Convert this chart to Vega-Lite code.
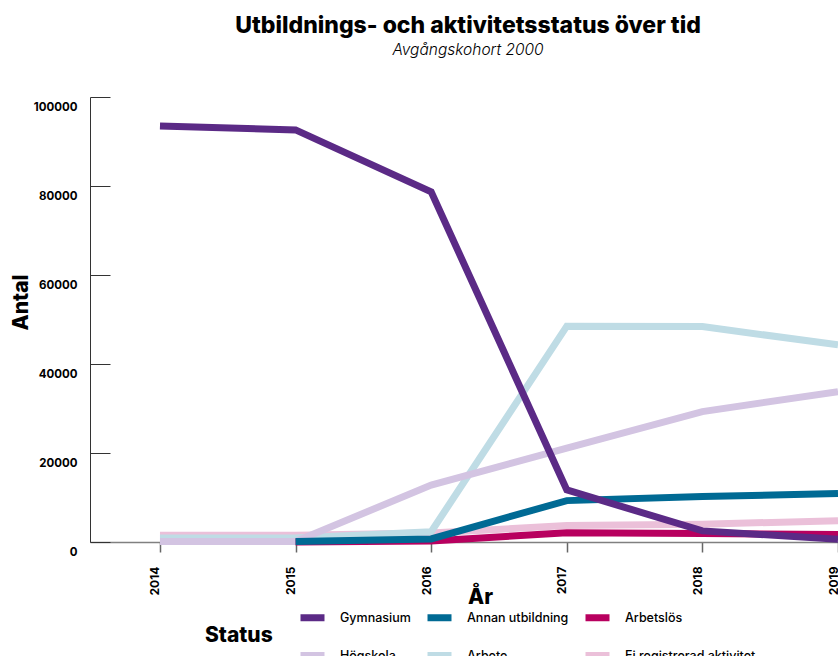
{
  "$schema": "https://vega.github.io/schema/vega-lite/v6.json",
  "width": 748,
  "height": 445,
  "autosize": {"type": "none"},
  "padding": {"left": 90, "top": 97, "right": 0, "bottom": 114},
  "background": "white",
  "title": {
    "text": "Utbildnings- och aktivitetsstatus över tid",
    "subtitle": "Avgångskohort 2000",
    "font": "Inter",
    "fontSize": 23,
    "fontWeight": 800,
    "color": "black",
    "subtitleFont": "Inter",
    "subtitleFontSize": 15.5,
    "subtitleFontStyle": "italic",
    "subtitleFontWeight": 300,
    "subtitleColor": "black",
    "subtitlePadding": 5,
    "anchor": "middle",
    "dx": 4,
    "offset": 38
  },
  "config": {
    "view": {"stroke": null},
    "font": "Inter"
  },
  "data": {
    "values": [
      {"status": "Ej registrerad aktivitet", "year": 2014, "antal": 1500},
      {"status": "Ej registrerad aktivitet", "year": 2015, "antal": 1500},
      {"status": "Ej registrerad aktivitet", "year": 2016, "antal": 2000},
      {"status": "Ej registrerad aktivitet", "year": 2017, "antal": 3700},
      {"status": "Ej registrerad aktivitet", "year": 2018, "antal": 4000},
      {"status": "Ej registrerad aktivitet", "year": 2019, "antal": 4800},
      {"status": "Arbete", "year": 2014, "antal": 900},
      {"status": "Arbete", "year": 2015, "antal": 900},
      {"status": "Arbete", "year": 2016, "antal": 2300},
      {"status": "Arbete", "year": 2017, "antal": 48500},
      {"status": "Arbete", "year": 2018, "antal": 48400},
      {"status": "Arbete", "year": 2019, "antal": 44300},
      {"status": "Högskola", "year": 2014, "antal": 100},
      {"status": "Högskola", "year": 2015, "antal": 100},
      {"status": "Högskola", "year": 2016, "antal": 12800},
      {"status": "Högskola", "year": 2017, "antal": 21100},
      {"status": "Högskola", "year": 2018, "antal": 29300},
      {"status": "Högskola", "year": 2019, "antal": 33800},
      {"status": "Arbetslös", "year": 2015, "antal": 0},
      {"status": "Arbetslös", "year": 2016, "antal": 200},
      {"status": "Arbetslös", "year": 2017, "antal": 2100},
      {"status": "Arbetslös", "year": 2018, "antal": 1900},
      {"status": "Arbetslös", "year": 2019, "antal": 1700},
      {"status": "Annan utbildning", "year": 2015, "antal": 100},
      {"status": "Annan utbildning", "year": 2016, "antal": 700},
      {"status": "Annan utbildning", "year": 2017, "antal": 9300},
      {"status": "Annan utbildning", "year": 2018, "antal": 10200},
      {"status": "Annan utbildning", "year": 2019, "antal": 10900},
      {"status": "Gymnasium", "year": 2014, "antal": 93500},
      {"status": "Gymnasium", "year": 2015, "antal": 92600},
      {"status": "Gymnasium", "year": 2016, "antal": 78700},
      {"status": "Gymnasium", "year": 2017, "antal": 11700},
      {"status": "Gymnasium", "year": 2018, "antal": 2500},
      {"status": "Gymnasium", "year": 2019, "antal": 600}
    ]
  },
  "mark": {"type": "line", "strokeWidth": 7, "strokeCap": "butt", "strokeJoin": "miter"},
  "encoding": {
    "x": {
      "field": "year",
      "type": "quantitative",
      "scale": {"domain": [2013.484, 2019], "nice": false, "zero": false},
      "axis": {
        "title": "År",
        "values": [2014, 2015, 2016, 2017, 2018, 2019],
        "format": "d",
        "grid": false,
        "labelAngle": -90,
        "labelAlign": "right",
        "labelBaseline": "middle",
        "labelOffset": -5,
        "labelFont": "Inter",
        "labelFontSize": 12,
        "labelFontWeight": 700,
        "labelColor": "black",
        "labelPadding": 14,
        "labelFlush": false,
        "labelOverlap": false,
        "domainColor": "#808080",
        "domainWidth": 1.5,
        "tickColor": "#666666",
        "tickWidth": 1.5,
        "tickSize": 10,
        "titleFont": "Inter",
        "titleFontSize": 21,
        "titleFontWeight": 800,
        "titleColor": "black",
        "titleX": 390,
        "titleY": 61,
        "titleAlign": "center",
        "titleBaseline": "alphabetic"
      }
    },
    "y": {
      "field": "antal",
      "type": "quantitative",
      "scale": {"domain": [0, 100000], "nice": false},
      "axis": {
        "title": "Antal",
        "values": [0, 20000, 40000, 60000, 80000, 100000],
        "format": "d",
        "grid": false,
        "labelFont": "Inter",
        "labelFontSize": 11.5,
        "labelFontWeight": 700,
        "labelColor": "black",
        "labelBaseline": "middle",
        "labelOffset": 10,
        "labelPadding": 33,
        "labelFlush": false,
        "labelOverlap": false,
        "domainColor": "#333333",
        "domainWidth": 1,
        "tickColor": "#333333",
        "tickWidth": 1,
        "tickSize": -20,
        "titleFont": "Inter",
        "titleFontSize": 21,
        "titleFontWeight": 800,
        "titleColor": "black",
        "titleAngle": -90,
        "titleX": -69,
        "titleY": 205,
        "titleAlign": "center",
        "titleBaseline": "middle"
      }
    },
    "color": {
      "field": "status",
      "type": "nominal",
      "scale": {
        "domain": ["Gymnasium", "Annan utbildning", "Arbetslös", "Högskola", "Arbete", "Ej registrerad aktivitet"],
        "range": ["#5b2a86", "#006a94", "#b8005f", "#d3c4e2", "#bfdce5", "#ebc0d9"]
      },
      "legend": {
        "title": "Status",
        "orient": "none",
        "legendX": 115,
        "legendY": 505,
        "direction": "horizontal",
        "columns": 3,
        "titleOrient": "left",
        "titleAnchor": "middle",
        "titleBaseline": "middle",
        "titleFont": "Inter",
        "titleFontSize": 21,
        "titleFontWeight": 800,
        "titleColor": "black",
        "titlePadding": 24,
        "symbolType": "stroke",
        "symbolStrokeWidth": 7,
        "symbolSize": 576,
        "labelFont": "Inter",
        "labelFontSize": 12.5,
        "labelFontWeight": 500,
        "labelColor": "black",
        "labelOffset": 12,
        "columnPadding": 2,
        "rowPadding": 8
      }
    }
  }
}
